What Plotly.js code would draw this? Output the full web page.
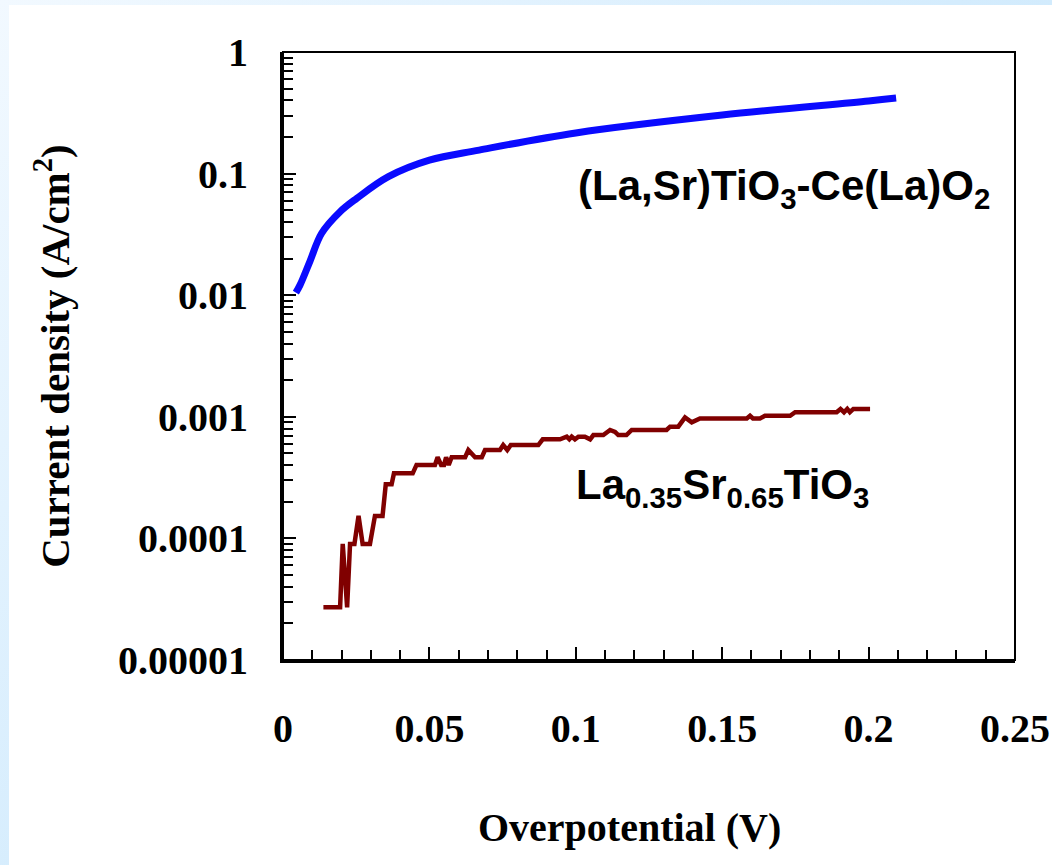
<!DOCTYPE html>
<html>
<head>
<meta charset="utf-8">
<script src="https://cdn.plot.ly/plotly-3.0.1.min.js"></script>
<style>
  html, body { margin:0; padding:0; }
  body { width:1052px; height:865px; position:relative; overflow:hidden;
         background: linear-gradient(135deg, #f2f9ff 0%, #d4ecfd 50%, #bfe3fb 100%); }
  #inner { position:absolute; left:9px; top:5px; width:1043px; height:860px; background:#ffffff; }
  #chart { position:absolute; left:0; top:0; width:1052px; height:865px; }
</style>
</head>
<body>
<div id="inner"></div>
<div id="chart"></div>
<script>
// Blue: (La,Sr)TiO3-Ce(La)O2
const blueX = [0.0044, 0.0058, 0.0092, 0.0132, 0.0195, 0.0252, 0.036, 0.05, 0.067, 0.1, 0.15, 0.2, 0.2094];
const blueY = [0.0105, 0.0121, 0.019, 0.0323, 0.0486, 0.0626, 0.0944, 0.129, 0.156, 0.216, 0.303, 0.395, 0.418];

// Dark red: La0.35Sr0.65TiO3
const redX = [0.0138, 0.0195, 0.0204, 0.0219, 0.0229, 0.0244, 0.0258, 0.0272, 0.0297, 0.0314, 0.0340, 0.0351, 0.0371, 0.0379, 0.0443,
  0.0456, 0.0519, 0.0528, 0.054, 0.055, 0.0557, 0.0566, 0.0576, 0.0622, 0.0633, 0.0656, 0.0679, 0.069, 0.0741, 0.0752, 0.0766,
  0.0778, 0.0872, 0.0887, 0.0946, 0.0969, 0.0978, 0.0986, 0.0997, 0.1009, 0.1031, 0.1049, 0.106, 0.1094, 0.1117, 0.1134, 0.1145,
  0.1173, 0.1191, 0.1310, 0.1322, 0.1350, 0.1373, 0.1396, 0.1424, 0.1584, 0.1595, 0.1605, 0.1629, 0.1646, 0.1732, 0.1749, 0.1891,
  0.1904, 0.1916, 0.1927, 0.1936, 0.1948, 0.2005];
const redY = [2.71e-5, 2.71e-5, 9.0e-5, 2.71e-5, 9.0e-5, 9.0e-5, 1.53e-4, 9.0e-5, 9.0e-5, 1.53e-4, 1.53e-4, 2.79e-4, 2.79e-4, 3.43e-4, 3.43e-4,
  4.02e-4, 4.02e-4, 4.65e-4, 4.02e-4, 4.02e-4, 4.65e-4, 4.02e-4, 4.65e-4, 4.65e-4, 5.33e-4, 4.65e-4, 4.65e-4, 5.33e-4, 5.33e-4, 5.86e-4, 5.33e-4,
  5.86e-4, 5.86e-4, 6.53e-4, 6.53e-4, 6.87e-4, 6.53e-4, 6.87e-4, 6.53e-4, 6.87e-4, 6.87e-4, 6.53e-4, 7.08e-4, 7.08e-4, 7.79e-4, 7.5e-4, 7.08e-4,
  7.08e-4, 7.79e-4, 7.79e-4, 8.3e-4, 8.3e-4, 9.9e-4, 9.0e-4, 9.7e-4, 9.7e-4, 1.02e-3, 9.7e-4, 9.7e-4, 1.02e-3, 1.02e-3, 1.09e-3, 1.09e-3,
  1.16e-3, 1.09e-3, 1.16e-3, 1.09e-3, 1.16e-3, 1.16e-3];

const xTickVals = [0, 0.05, 0.1, 0.15, 0.2, 0.25];
const xTickText = ['0', '0.05', '0.1', '0.15', '0.2', '0.25'];
const yTickVals = [1e-5, 1e-4, 1e-3, 1e-2, 1e-1, 1];
const yTickText = ['0.00001', '0.0001', '0.001', '0.01', '0.1', '1'];

const xTitle = 'Overpotential (V)';
const yTitle = 'Current density (A/cm<sup>2</sup>)';
const labelBlue = '(La,Sr)TiO<sub>3</sub>-Ce(La)O<sub>2</sub>';
const labelRed = 'La<sub>0.35</sub>Sr<sub>0.65</sub>TiO<sub>3</sub>';

const serif = 'Liberation Serif, Times New Roman, serif';
const sans = 'Liberation Sans, Arial, sans-serif';

const traces = [
  { x: blueX, y: blueY, type: 'scatter', mode: 'lines', line: { color: '#0a0aff', width: 7, shape: 'spline', smoothing: 1 }, hoverinfo: 'skip' },
  { x: redX, y: redY, type: 'scatter', mode: 'lines', line: { color: '#800000', width: 4.5 }, hoverinfo: 'skip' }
];

const layout = {
  width: 1052, height: 865,
  paper_bgcolor: 'rgba(0,0,0,0)', plot_bgcolor: 'rgba(0,0,0,0)',
  margin: { l: 283, r: 37, t: 52, b: 205 },
  showlegend: false,
  xaxis: {
    range: [0, 0.25], tickvals: xTickVals, ticktext: xTickText,
    ticks: 'inside', ticklen: 13, tickwidth: 2, tickcolor: '#000',
    minor: { ticks: 'inside', ticklen: 10, tickwidth: 2, tickcolor: '#000', dtick: 0.01 },
    showline: true, linewidth: 3, linecolor: '#000', showgrid: false, zeroline: false,
    ticklabelstandoff: 31,
    tickfont: { family: serif, size: 40, color: '#000', weight: 'bold' }
  },
  yaxis: {
    type: 'log', range: [-5, 0], tickvals: yTickVals, ticktext: yTickText,
    ticks: 'inside', ticklen: 13, tickwidth: 2, tickcolor: '#000',
    minor: { ticks: 'inside', ticklen: 10, tickwidth: 2, tickcolor: '#000', dtick: 'D1' },
    showline: true, linewidth: 3, linecolor: '#000', showgrid: false, zeroline: false,
    ticklabelstandoff: 24,
    tickfont: { family: serif, size: 40, color: '#000', weight: 'bold' },
    title: { text: yTitle, font: { family: serif, size: 41, color: '#000', weight: 'bold' }, standoff: 36 }
  },
  shapes: [
    { type: 'rect', xref: 'paper', yref: 'paper', x0: 0, x1: 1, y0: 0, y1: 1, line: { color: '#000', width: 2 } }
  ],
  annotations: [
    { text: xTitle, xref: 'paper', yref: 'paper', x: 0.474, y: -0.275, xanchor: 'center', yanchor: 'middle', showarrow: false,
      font: { family: serif, size: 40, color: '#000', weight: 'bold' } },
    { text: labelBlue, xref: 'paper', yref: 'paper', x: 0.684, y: 0.775, xanchor: 'center', yanchor: 'middle', showarrow: false,
      font: { family: sans, size: 42, color: '#000', weight: 'bold' } },
    { text: labelRed, xref: 'paper', yref: 'paper', x: 0.600, y: 0.283, xanchor: 'center', yanchor: 'middle', showarrow: false,
      font: { family: sans, size: 42, color: '#000', weight: 'bold' } }
  ]
};

Plotly.newPlot('chart', traces, layout, { displayModeBar: false, staticPlot: true });
</script>
</body>
</html>
